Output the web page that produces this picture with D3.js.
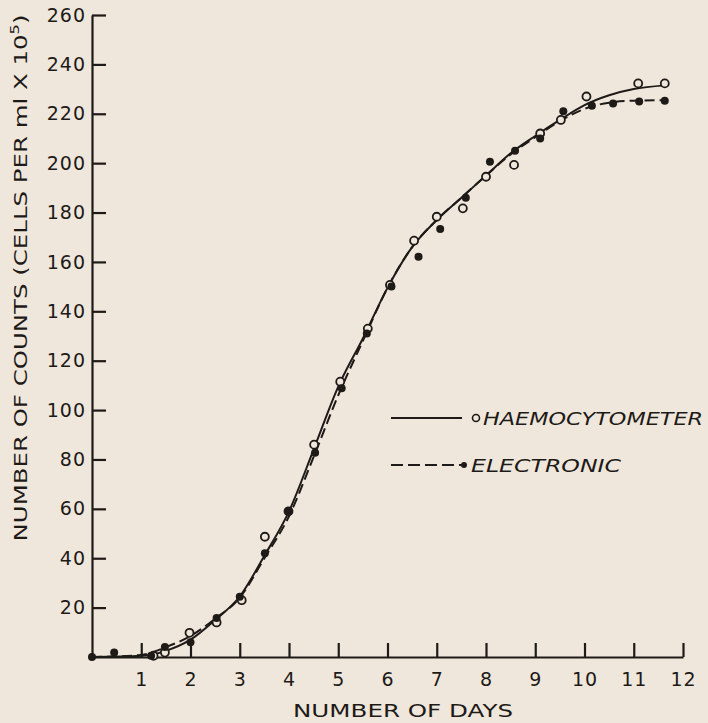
<!DOCTYPE html>
<html lang="en">
<head>
  <meta charset="UTF-8">
  <title>Cell counts: haemocytometer vs electronic</title>
  <script src="https://d3js.org/d3.v7.min.js"></script>
  <style>
    body {
      margin: 0;
      background: #efe7dc;
    }
    svg {
      display: block;
      font-family: "DejaVu Sans", sans-serif;
    }
    .axis path,
    .axis line {
      stroke: #1e1a17;
      stroke-width: 2.2;
    }
    .axis text {
      font-size: 19px;
      fill: #1e1a17;
      font-family: "DejaVu Sans", sans-serif;
      letter-spacing: 1px;
    }
    .title {
      font-size: 18px;
      fill: #1e1a17;
    }
    .legend text {
      font-size: 18px;
      font-style: italic;
      fill: #1e1a17;
    }
  </style>
</head>
<body>
<script>
  // readings: days and counts (cells per ml x 10^5)
  const haemoDays   = [1.25, 1.48, 1.98, 2.53, 3.04, 3.51, 3.99, 4.51, 5.04, 5.6, 6.05, 6.54, 7.0, 7.53, 8.0, 8.57, 9.1, 9.52, 10.04, 11.09, 11.63];
  const haemoCounts = [0.5, 1.8, 9.8, 14, 23, 48.7, 59, 86, 111.5, 133, 150.7, 168.6, 178.3, 181.7, 194.5, 199.3, 212, 217.5, 227, 232.3, 232.3];

  const electronicDays   = [0, 0.45, 1.2, 1.48, 2.0, 2.53, 3.0, 3.51, 3.99, 4.53, 5.07, 5.58, 6.08, 6.63, 7.07, 7.59, 8.08, 8.59, 9.1, 9.57, 10.15, 10.58, 11.11, 11.63];
  const electronicCounts = [0, 1.8, 0.5, 4, 6, 15.8, 24.4, 42, 59, 82.7, 108.8, 131, 150, 162.1, 173.3, 186, 200.6, 205, 210, 221, 223.2, 224.2, 225, 225.3];

  // fitted curves as drawn in the figure
  const curveDays       = [0, 1, 1.5, 2, 2.5, 3, 3.5, 4, 4.5, 5, 5.5, 6, 6.5, 7, 7.5, 8, 8.5, 9, 9.5, 10, 10.5, 11, 11.63];
  const haemoCurve      = [0, 0.5, 2.5, 7, 15, 24.5, 41, 59, 84, 109.5, 129, 149.5, 166, 177, 186, 195, 204, 211, 217.5, 223.5, 227.5, 230, 231.5];
  const electronicCurve = [0, 0.8, 4, 8.5, 15.5, 24, 40, 57, 81, 106, 128, 149.5, 166, 177, 186, 195, 203.5, 210.5, 217, 222, 224.5, 225.3, 225.5];

  const xTicks = [1, 2, 3, 4, 5, 6, 7, 8, 9, 10, 11, 12];
  const yTicks = [20, 40, 60, 80, 100, 120, 140, 160, 180, 200, 220, 240, 260];

  const seriesNames = ["HAEMOCYTOMETER", "ELECTRONIC"];

  const width = 708;
  const height = 723;

  const x = d3.scaleLinear().domain([0, 12]).range([92, 683]);
  const y = d3.scaleLinear().domain([0, 260]).range([657, 15]);

  const svg = d3.select("body").append("svg")
    .attr("width", width)
    .attr("height", height);

  svg.append("rect")
    .attr("width", width)
    .attr("height", height)
    .attr("fill", "#efe7dc");

  // axes, ticks point inward
  svg.append("g")
    .attr("class", "axis")
    .attr("transform", `translate(0,${y(0)})`)
    .call(d3.axisBottom(x).tickValues(xTicks).tickSizeInner(-14).tickSizeOuter(0).tickPadding(16).tickFormat(d3.format("d")));

  svg.append("g")
    .attr("class", "axis")
    .attr("transform", `translate(${x(0)},0)`)
    .call(d3.axisLeft(y).tickValues(yTicks).tickSizeInner(-14).tickSizeOuter(0).tickPadding(6).tickFormat(d3.format("d")));

  svg.selectAll(".axis .domain").attr("fill", "none");

  // axis titles
  svg.append("text")
    .attr("class", "title")
    .attr("x", 403)
    .attr("y", 717)
    .attr("text-anchor", "middle")
    .attr("textLength", 220)
    .attr("lengthAdjust", "spacingAndGlyphs")
    .text("NUMBER OF DAYS");

  const yTitle = svg.append("text")
    .attr("class", "title")
    .attr("transform", "translate(27,278) rotate(-90)")
    .attr("text-anchor", "middle")
    .attr("textLength", 527)
    .attr("lengthAdjust", "spacingAndGlyphs");
  yTitle.append("tspan").text("NUMBER OF COUNTS (CELLS PER ml X 10");
  yTitle.append("tspan").attr("font-size", "12px").attr("dy", "-8").text("5");
  yTitle.append("tspan").attr("dy", "8").text(")");

  // curves
  const line = d3.line()
    .x((d, i) => x(curveDays[i]))
    .y(d => y(d))
    .curve(d3.curveMonotoneX);

  svg.append("path")
    .datum(haemoCurve)
    .attr("d", line)
    .attr("fill", "none")
    .attr("stroke", "#1e1a17")
    .attr("stroke-width", 2);

  svg.append("path")
    .datum(electronicCurve)
    .attr("d", line)
    .attr("fill", "none")
    .attr("stroke", "#1e1a17")
    .attr("stroke-width", 2)
    .attr("stroke-dasharray", "10,5");

  // points
  svg.append("g").selectAll("circle")
    .data(haemoDays)
    .join("circle")
    .attr("cx", d => x(d))
    .attr("cy", (d, i) => y(haemoCounts[i]))
    .attr("r", 4)
    .attr("fill", "#efe7dc")
    .attr("stroke", "#1e1a17")
    .attr("stroke-width", 1.8);

  svg.append("g").selectAll("circle")
    .data(electronicDays)
    .join("circle")
    .attr("cx", d => x(d))
    .attr("cy", (d, i) => y(electronicCounts[i]))
    .attr("r", 4)
    .attr("fill", "#1e1a17");

  // legend
  const legend = svg.append("g").attr("class", "legend");
  const legendRows = [
    { name: seriesNames[0], y: 418, dash: null, open: true, textLen: 220 },
    { name: seriesNames[1], y: 465, dash: "12,5", open: false, textLen: 150 }
  ];
  legendRows.forEach(r => {
    legend.append("line")
      .attr("x1", 391).attr("x2", 462)
      .attr("y1", r.y).attr("y2", r.y)
      .attr("stroke", "#1e1a17")
      .attr("stroke-width", 1.8)
      .attr("stroke-dasharray", r.dash);
    legend.append("circle")
      .attr("cx", r.open ? 476 : 464)
      .attr("cy", r.y)
      .attr("r", r.open ? 3.5 : 3)
      .attr("fill", r.open ? "#efe7dc" : "#1e1a17")
      .attr("stroke", "#1e1a17")
      .attr("stroke-width", r.open ? 1.6 : 0);
    legend.append("text")
      .attr("x", r.open ? 483 : 471)
      .attr("y", r.y + 7)
      .attr("textLength", r.textLen)
      .attr("lengthAdjust", "spacingAndGlyphs")
      .text(r.name);
  });
</script>
</body>
</html>
